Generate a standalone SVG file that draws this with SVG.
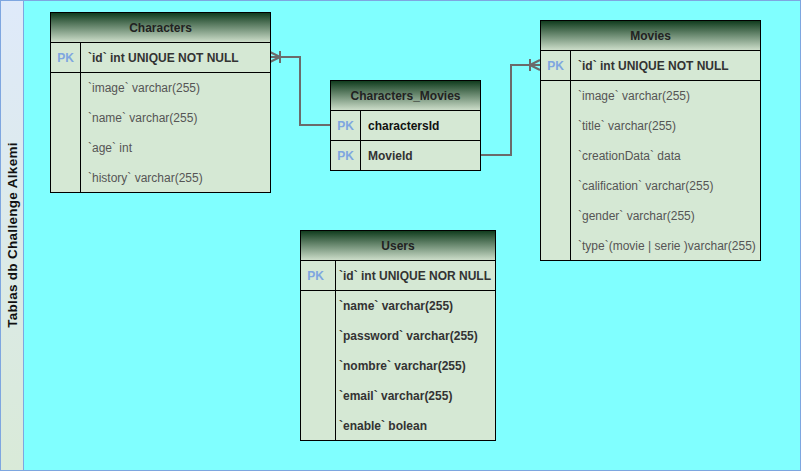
<svg xmlns="http://www.w3.org/2000/svg" width="801" height="471" viewBox="0 0 801 471">
<style>
text{font-family:"Liberation Sans",Arial,sans-serif;font-size:12px}
.tb{fill:#d5e8d4;stroke:#000;stroke-width:1}
.hd{stroke:#000;stroke-width:1}
.ln{stroke:#000;stroke-width:1;fill:none}
.ht{font-weight:bold;fill:#222;text-anchor:middle}
.pk{font-weight:bold;fill:#7EA6E0;text-anchor:middle}
.f{fill:#555}
.fb{fill:#333;font-weight:bold}
.con{stroke:#6b6b6b;stroke-width:2;fill:none}
</style>
<defs>
<linearGradient id="hg" x1="0" y1="0" x2="0" y2="1">
<stop offset="0" stop-color="#0e3a1c"/>
<stop offset="1" stop-color="#cfe0cc"/>
</linearGradient>
<linearGradient id="sg" x1="0" y1="0" x2="0" y2="1">
<stop offset="0" stop-color="#dfeafa"/>
<stop offset="1" stop-color="#d9ead8"/>
</linearGradient>
</defs>
<g id="frame">
<rect x="0.5" y="0.5" width="800" height="470" fill="#80FFFF" stroke="#7EA6E0"/>
<rect x="0.5" y="0.5" width="23" height="470" fill="url(#sg)" stroke="#7EA6E0"/>
<text transform="translate(16.5,235) rotate(-90)" text-anchor="middle" font-weight="bold" fill="#111" style="font-size:13.5px;letter-spacing:0.3px">Tablas db Challenge Alkemi</text>
</g>
<g id="connectors">
<path class="con" d="M330,125 H300 V57 H270"/>
<path class="con" d="M270,52 L280,57 M270,62 L280,57 M280,51 V63"/>
<path class="con" d="M480,155 H511 V65 H540"/>
<path class="con" d="M540,60 L530,65 M540,70 L530,65 M530,59 V71"/>
</g>
<g id="characters">
<rect class="tb" x="50.5" y="12.5" width="220" height="180"/>
<rect class="hd" x="50.5" y="12.5" width="220" height="30" fill="url(#hg)"/>
<text class="ht" x="160.5" y="32">Characters</text>
<path class="ln" d="M50.5,72.5 H270.5 M80.5,42.5 V192.5"/>
<text class="pk" x="65.5" y="62">PK</text>
<text class="fb" x="88" y="62">`id`  int UNIQUE NOT NULL</text>
<text class="f" x="88" y="92">`image` varchar(255)</text>
<text class="f" x="88" y="122">`name` varchar(255)</text>
<text class="f" x="88" y="152">`age` int</text>
<text class="f" x="88" y="182">`history` varchar(255)</text>
</g>
<g id="characters_movies">
<rect class="tb" x="330.5" y="80.5" width="150" height="90"/>
<rect class="hd" x="330.5" y="80.5" width="150" height="30" fill="url(#hg)"/>
<text class="ht" x="405.5" y="100">Characters_Movies</text>
<path class="ln" d="M330.5,140.5 H480.5 M360.5,110.5 V170.5"/>
<text class="pk" x="345.5" y="130">PK</text>
<text x="368" y="130" font-weight="bold" fill="#111">charactersId</text>
<text class="pk" x="345.5" y="160">PK</text>
<text class="fb" x="368" y="160">MovieId</text>
</g>
<g id="movies">
<rect class="tb" x="540.5" y="20.5" width="220" height="240"/>
<rect class="hd" x="540.5" y="20.5" width="220" height="30" fill="url(#hg)"/>
<text class="ht" x="650.5" y="40">Movies</text>
<path class="ln" d="M540.5,80.5 H760.5 M570.5,50.5 V260.5"/>
<text class="pk" x="555.5" y="70">PK</text>
<text class="fb" x="578" y="70">`id`  int UNIQUE NOT NULL</text>
<text class="f" x="578" y="100">`image` varchar(255)</text>
<text class="f" x="578" y="130">`title` varchar(255)</text>
<text class="f" x="578" y="160">`creationData` data</text>
<text class="f" x="578" y="190">`calification` varchar(255)</text>
<text class="f" x="578" y="220">`gender` varchar(255)</text>
<text class="f" x="578" y="250">`type`(movie | serie )varchar(255)</text>
</g>
<g id="users">
<rect class="tb" x="300.5" y="230.5" width="195" height="210"/>
<rect class="hd" x="300.5" y="230.5" width="195" height="30" fill="url(#hg)"/>
<text class="ht" x="398" y="250">Users</text>
<path class="ln" d="M300.5,290.5 H495.5 M335.5,260.5 V440.5"/>
<text class="pk" x="315.5" y="280">PK</text>
<text class="fb" x="339" y="280">`id` int UNIQUE NOR NULL</text>
<text class="fb" x="339" y="310">`name` varchar(255)</text>
<text class="fb" x="339" y="340">`password` varchar(255)</text>
<text class="fb" x="339" y="370">`nombre` varchar(255)</text>
<text class="fb" x="339" y="400">`email` varchar(255)</text>
<text class="fb" x="339" y="430">`enable` bolean</text>
</g>
</svg>
